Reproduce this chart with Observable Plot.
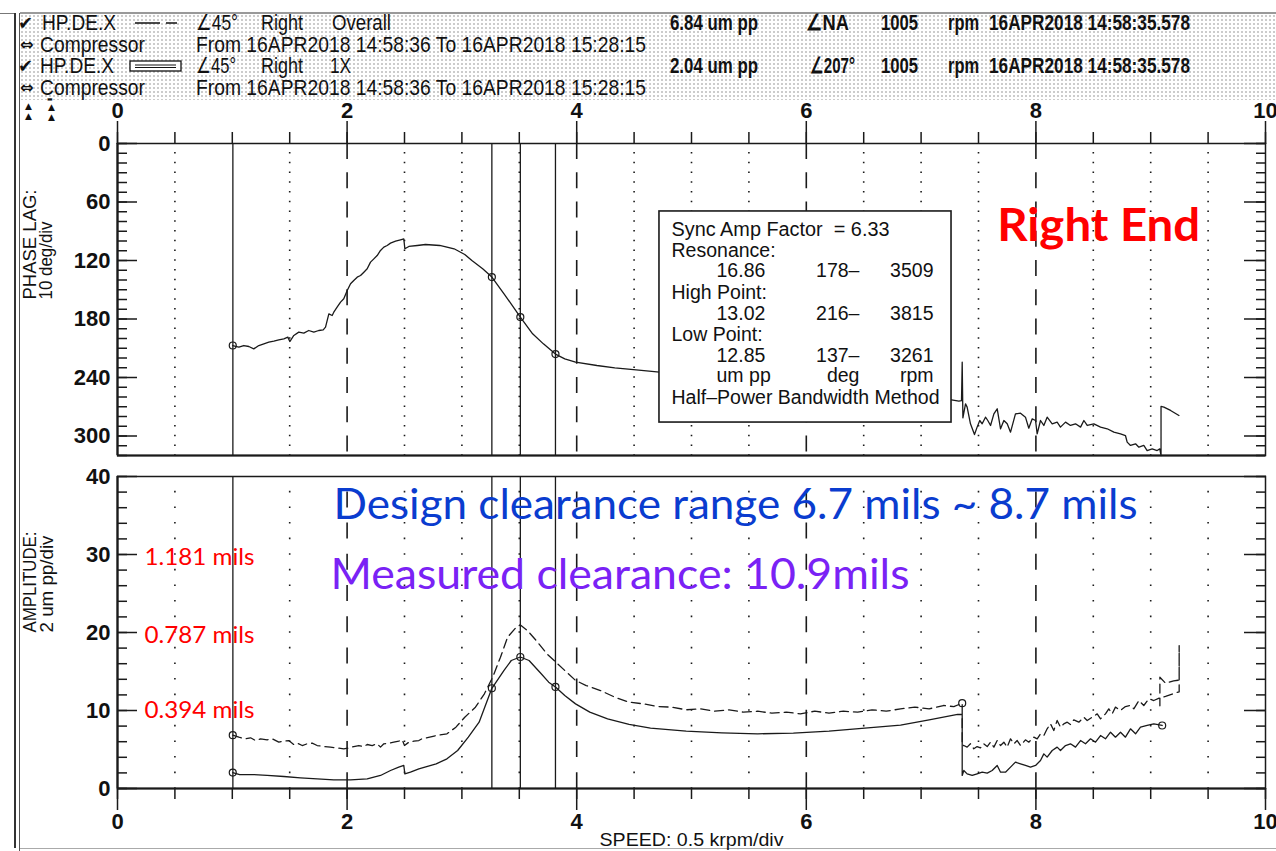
<!DOCTYPE html>
<html>
<head>
<meta charset="utf-8">
<script src="https://cdn.jsdelivr.net/npm/d3@7"></script>
<script src="https://cdn.jsdelivr.net/npm/@observablehq/plot@0.6"></script>
<style>
html,body{margin:0;padding:0;background:#fff;}
#page{position:relative;width:1276px;height:851px;overflow:hidden;background:#fff;}
#hdr{position:absolute;left:20px;top:12px;width:1256px;height:86px;border-top:2px solid #9a9a9a;
 background-image:radial-gradient(circle, rgba(0,0,0,0.20) 0.75px, rgba(0,0,0,0) 1.05px);background-size:4px 4px;}
.t{position:absolute;white-space:pre;font-family:"Liberation Sans Narrow","Liberation Sans",sans-serif;font-size:22px;line-height:20px;color:#111;transform-origin:0 50%;}
.b{font-weight:bold;}
.ic{position:absolute;font-family:"DejaVu Sans",sans-serif;color:#111;line-height:1;}
.vl{position:absolute;background:#333;}
.sym{position:absolute;overflow:visible;}
#p1,#p2{position:absolute;left:0;}
#p1{top:90px;} #p2{top:460px;}
</style>
</head>
<body>
<div id="page">
  <div id="hdr"></div>
  <div class="vl" style="left:0;top:13px;width:15px;height:1px;background:#777"></div>
  <div class="vl" style="left:14px;top:13px;width:2px;height:835px;"></div>
  <div class="vl" style="left:19px;top:13px;width:1px;height:838px;background:#555"></div>
  <div class="vl" style="left:20px;top:848px;width:1256px;height:1px;background:#aaa"></div>
  <div id="hdrText"></div>
  <svg class="sym" style="left:130px;top:14px" width="55" height="16"><line x1="5" y1="9" x2="47" y2="9" stroke="#111" stroke-width="1.5" stroke-dasharray="25,6,11,100"/></svg>
  <svg class="sym" style="left:128px;top:58px" width="56" height="18"><rect x="2" y="3" width="51" height="10" fill="#fff" stroke="#111" stroke-width="1.3"/><line x1="7" y1="7" x2="48" y2="7" stroke="#111" stroke-width="1"/><line x1="7" y1="9.5" x2="48" y2="9.5" stroke="#111" stroke-width="1"/></svg>
  <span class="ic" style="left:18px;top:14px;font-size:18px">✔</span>
  <span class="ic" style="left:18px;top:57px;font-size:18px">✔</span>
  <span class="ic" style="left:20px;top:37px;font-size:16px;font-weight:bold">⇔</span>
  <span class="ic" style="left:20px;top:80px;font-size:16px;font-weight:bold">⇔</span>
  <span class="ic" style="left:25px;top:102px;font-size:9px">▲</span>
  <span class="ic" style="left:25px;top:112px;font-size:9px">▲</span>
  <span class="ic" style="left:47px;top:96px;font-size:6px">▬</span>
  <span class="ic" style="left:48px;top:103px;font-size:9px">▲</span>
  <span class="ic" style="left:48px;top:113px;font-size:9px">▲</span>
  <div id="p1"></div>
  <div id="p2"></div>
</div>
<script>
// ================= DATA =================
const xMajorTicks = [0, 2, 4, 6, 8, 10];
const xMinorTicks = [0, 0.5, 1, 1.5, 2, 2.5, 3, 3.5, 4, 4.5, 5, 5.5, 6, 6.5, 7, 7.5, 8, 8.5, 9, 9.5, 10];
const dottedSpeeds = [0.5, 1.5, 2.5, 3, 3.5, 4.5, 5, 5.5, 6.5, 7, 7.5, 8.5, 9, 9.5];
const dashedSpeeds = [2, 4, 6, 8];
const cursorSpeeds = [1.005, 3.261, 3.509, 3.815];
const phaseMajorTicks = [0, 60, 120, 180, 240, 300];
const phaseMinorTicks = [0, 10, 20, 30, 40, 50, 60, 70, 80, 90, 100, 110, 120, 130, 140, 150, 160, 170, 180, 190, 200, 210, 220, 230, 240, 250, 260, 270, 280, 290, 300, 310, 320];
const ampMajorTicks = [0, 10, 20, 30, 40];
const ampMinorTicks = [0, 2, 4, 6, 8, 10, 12, 14, 16, 18, 20, 22, 24, 26, 28, 30, 32, 34, 36, 38, 40];

// 1X phase lag (krpm, deg)
const phaseTrace = [
 [1.004,207.2],[1.057,208.9],[1.100,207.2],[1.144,208.2],[1.187,210.6],[1.231,207.2],[1.275,205.5],[1.318,203.8],
 [1.362,202.7],[1.405,201.4],[1.449,200.3],[1.484,198.6],[1.501,203.1],[1.536,196.9],[1.579,193.5],[1.623,194.5],
 [1.666,191.8],[1.710,193.5],[1.753,191.8],[1.792,191.1],[1.812,188.4],[1.841,174.7],[1.870,176.4],[1.884,173.0],
 [1.913,167.9],[1.943,162.7],[1.971,159.3],[2.001,150.8],[2.030,143.9],[2.058,140.5],[2.088,137.1],[2.117,135.4],
 [2.146,132.0],[2.175,128.5],[2.204,121.7],[2.233,118.3],[2.262,114.9],[2.291,109.7],[2.320,106.3],[2.349,104.6],
 [2.378,102.2],[2.422,100.2],[2.465,98.8],[2.494,97.8],[2.503,108.0],[2.538,105.6],[2.611,104.6],[2.683,103.6],
 [2.807,104.6],[2.932,108.0],[3.025,113.8],[3.087,120.0],[3.181,128.5],[3.261,137.0],[3.367,154.2],[3.509,178.0],
 [3.616,195.2],[3.710,205.5],[3.815,216.0],[3.896,220.9],[3.990,224.3],[4.176,227.7],[4.332,230.1],[4.518,232.1],
 [4.721,234.5],[7.265,262.9],[7.329,264.3],[7.352,263.6],[7.358,224.3],[7.364,281.4],[7.387,267.0],[7.401,270.4],
 [7.430,287.5],[7.465,298.5],[7.488,290.9],[7.511,284.1],[7.532,287.5],[7.561,280.7],[7.581,284.1],[7.605,289.2],
 [7.634,277.3],[7.663,272.1],[7.692,292.6],[7.721,284.1],[7.750,287.5],[7.779,296.1],[7.822,277.3],[7.866,276.6],
 [7.909,280.7],[7.938,292.0],[7.968,282.4],[7.997,284.1],[8.011,297.8],[8.040,284.1],[8.069,289.2],[8.098,280.7],
 [8.142,287.5],[8.185,285.8],[8.214,290.9],[8.258,285.8],[8.301,289.2],[8.345,287.5],[8.389,290.9],[8.418,284.1],
 [8.447,289.2],[8.505,287.5],[8.563,290.9],[8.621,292.6],[8.679,296.1],[8.737,297.8],[8.780,299.5],[8.795,306.3],
 [8.824,309.7],[8.868,308.0],[8.897,311.5],[8.940,309.7],[8.969,314.9],[9.013,313.2],[9.056,314.9],[9.079,313.2],
 [9.090,320.0],[9.090,269.7],[9.115,270.4],[9.173,273.8],[9.246,279.0]
];
const phaseMarks = [[1.004,207.2],[3.261,137],[3.509,178],[3.815,216]];

// Overall amplitude (krpm, um pp) - dashed
const overallTrace = [
 [1.004,6.84],[1.057,6.58],[1.115,6.37],[1.159,6.50],[1.202,6.15],[1.246,6.37],[1.304,6.24],[1.347,6.37],
 [1.405,5.94],[1.449,6.07],[1.492,6.15],[1.536,5.64],[1.565,5.81],[1.609,5.51],[1.652,5.73],[1.696,5.81],
 [1.739,5.51],[1.797,5.38],[1.855,5.30],[1.913,5.21],[1.971,5.09],[2.015,5.21],[2.058,5.38],[2.102,5.51],
 [2.146,5.38],[2.175,5.64],[2.219,5.51],[2.262,5.73],[2.291,5.30],[2.320,5.73],[2.363,5.81],[2.407,5.94],
 [2.450,6.07],[2.480,6.24],[2.500,5.51],[2.538,5.94],[2.581,6.07],[2.625,6.15],[2.652,6.37],[2.776,6.79],
 [2.870,7.01],[2.948,7.86],[3.025,9.14],[3.118,10.42],[3.196,12.14],[3.268,14.27],[3.336,16.83],[3.398,19.40],
 [3.461,20.47],[3.507,20.98],[3.570,20.26],[3.647,18.97],[3.741,17.26],[3.834,15.98],[3.990,13.85],[4.083,13.20],
 [4.207,12.56],[4.332,11.71],[4.456,11.07],[4.581,10.85],[4.705,10.51],[4.829,10.43],[4.954,10.09],[5.078,10.21],
 [5.203,9.91],[5.327,10.09],[5.451,9.79],[5.576,9.91],[5.700,9.66],[5.825,9.79],[5.949,9.57],[6.074,9.91],
 [6.198,9.66],[6.323,9.91],[6.447,9.79],[6.572,10.09],[6.696,9.91],[6.821,10.21],[6.945,10.43],[7.070,10.21],
 [7.194,10.64],[7.285,10.50],[7.358,10.94],[7.358,5.51],[7.372,5.51],[7.401,5.30],[7.430,5.73],[7.459,5.09],
 [7.488,5.38],[7.517,5.21],[7.546,5.73],[7.576,5.38],[7.605,5.94],[7.634,5.30],[7.663,6.15],[7.692,5.51],
 [7.721,5.94],[7.750,5.30],[7.779,6.37],[7.808,5.73],[7.837,6.15],[7.866,5.51],[7.909,6.24],[7.938,5.94],
 [7.982,6.58],[8.011,6.37],[8.040,7.01],[8.069,6.79],[8.098,7.65],[8.127,8.29],[8.156,7.44],[8.185,8.72],
 [8.214,7.86],[8.243,8.29],[8.273,8.50],[8.301,8.21],[8.330,8.80],[8.374,8.50],[8.418,9.14],[8.447,8.72],
 [8.490,9.14],[8.534,9.57],[8.563,8.93],[8.606,9.57],[8.635,10.21],[8.664,9.57],[8.693,10.43],[8.737,10.00],
 [8.780,10.51],[8.824,10.64],[8.853,10.21],[8.897,11.28],[8.940,10.64],[8.984,11.50],[9.027,11.28],[9.080,11.62],
 [9.129,11.80],[9.187,12.10],[9.248,12.40],[9.248,18.33],[9.248,13.90],[9.200,13.80],[9.129,13.50],[9.080,14.27],
 [9.080,10.60]
];
const overallMarks = [[1.004,6.84],[7.358,10.94]];

// 1X amplitude (krpm, um pp) - solid
const onexTrace = [
 [1.004,2.04],[1.064,1.79],[1.187,1.79],[1.304,1.67],[1.449,1.54],[1.594,1.37],[1.739,1.24],[1.884,1.11],
 [2.030,1.11],[2.175,1.24],[2.291,1.67],[2.378,2.31],[2.450,2.74],[2.494,2.95],[2.503,1.88],[2.552,2.09],
 [2.625,2.52],[2.776,3.16],[2.870,3.80],[2.963,4.87],[3.056,6.58],[3.150,8.50],[3.261,12.85],[3.367,15.13],
 [3.430,16.41],[3.509,16.86],[3.585,16.41],[3.679,14.91],[3.756,13.63],[3.815,13.02],[3.896,11.92],[3.990,10.85],
 [4.114,9.79],[4.269,8.93],[4.456,8.21],[4.643,7.74],[4.954,7.35],[5.265,7.14],[5.576,7.01],[5.887,7.10],
 [6.198,7.35],[6.510,7.74],[6.821,8.12],[7.070,8.80],[7.318,9.49],[7.358,9.49],[7.358,1.67],[7.372,2.31],
 [7.401,1.88],[7.445,1.67],[7.488,1.88],[7.532,2.09],[7.576,1.97],[7.619,2.31],[7.663,2.95],[7.692,2.09],
 [7.735,2.09],[7.779,2.74],[7.822,3.38],[7.866,3.16],[7.909,2.95],[7.953,2.74],[7.997,2.95],[8.040,3.59],
 [8.069,4.44],[8.098,4.02],[8.142,4.87],[8.185,5.30],[8.214,4.87],[8.258,5.51],[8.301,5.73],[8.345,5.30],
 [8.389,6.15],[8.432,5.73],[8.476,6.37],[8.519,5.94],[8.563,6.79],[8.606,6.37],[8.650,7.22],[8.693,6.58],
 [8.737,7.22],[8.780,6.58],[8.824,7.65],[8.868,7.01],[8.911,7.86],[8.969,8.08],[9.027,8.29],[9.100,8.08]
];
const onexMarks = [[1.004,2.04],[3.261,12.85],[3.509,16.86],[3.815,13.02],[9.100,8.08]];

// Texts
const boxHeadings = ["Sync Amp Factor  = 6.33", "Resonance:", "High Point:", "Low Point:", "Half–Power Bandwidth Method"];
const boxValueRows = [["16.86", "178–", "3509"], ["13.02", "216–", "3815"], ["12.85", "137–", "3261"], ["um pp", "deg", "rpm"]];
const milsLabels = ["1.181 mils", "0.787 mils", "0.394 mils"];
const rightEndNote = "Right End";
const designNote = "Design clearance range 6.7 mils ~ 8.7 mils";
const measuredNote = "Measured clearance: 10.9mils";
const phaseTitle = ["PHASE LAG:", "10 deg/div"];
const ampTitle = ["AMPLITUDE:", "2 um pp/div"];
const speedTitle = "SPEED: 0.5 krpm/div";
const headerTexts = [
 ["HP.DE.X",0],["∠45°",0],["Right",0],["Overall",0],["6.84 um pp",1],["∠NA",1],["1005",1],["rpm",1],["16APR2018 14:58:35.578",1],
 ["Compressor",0],["From 16APR2018 14:58:36 To 16APR2018 15:28:15",0],
 ["HP.DE.X",0],["∠45°",0],["Right",0],["1X",0],["2.04 um pp",1],["∠207°",1],["1005",1],["rpm",1],["16APR2018 14:58:35.578",1],
 ["Compressor",0],["From 16APR2018 14:58:36 To 16APR2018 15:28:15",0]
];

// ================= LAYOUT (positions / sizes / styles) =================
const headerLayout = [
 [42,13,74],[196,13,42],[261,13,42],[332,13,59],[670,13,88],[806,13,43],[881,13,37],[948,13,31],[989,13,201],
 [40,35,105],[196,35,450],
 [40,56,74],[196,56,40],[261,56,42],[330,56,21],[670,56,88],[810,56,45],[881,56,37],[948,56,31],[989,56,201],
 [40,78,105],[196,78,450]
];
const BOX = {x1: 4.721, x2: 7.265, y1: 69.7, y2: 286.2};
const rowBase = [94.4, 115.9, 137.4, 159.0, 181.0, 202.6, 224.1, 245.1, 267.0];
const headRows = [0, 1, 3, 5, 8];
const valRows = [2, 4, 6, 7];
const boxLeft = 4.826;
const colX = [5.218, 6.463, 7.108];
const colAnchor = ["start", "end", "end"];
const INK = "#1a1a1a";
const tickFont = {fontFamily: '"Liberation Sans Narrow","Liberation Sans",sans-serif', fontSize: "22px", fontWeight: "bold", color: "#111", background: "transparent", overflow: "visible"};
const fits = {
 "Right End": 203, "Design clearance range 6.7 mils ~ 8.7 mils": 804, "Measured clearance: 10.9mils": 579,
 "1.181 mils": 110, "0.787 mils": 110, "0.394 mils": 110,
 "Sync Amp Factor  = 6.33": 218, "Half–Power Bandwidth Method": 268,
 "SPEED: 0.5 krpm/div": 184, "PHASE LAG:": 110, "10 deg/div": 78, "AMPLITUDE:": 101, "2 um pp/div": 97
};

// ================= HEADER =================
const hdr = document.getElementById("hdrText");
headerTexts.forEach(([t, bold], i) => {
  const [l, tp, w] = headerLayout[i];
  const s = document.createElement("span");
  s.className = "t" + (bold ? " b" : "");
  s.style.left = l + "px"; s.style.top = tp + "px";
  s.dataset.w = w; s.textContent = t;
  hdr.appendChild(s);
});
function fitHeader() {
  hdr.querySelectorAll(".t").forEach(s => {
    s.style.transform = "none";
    const w = s.getBoundingClientRect().width;
    if (w > 0) s.style.transform = `scaleX(${(+s.dataset.w) / w})`;
  });
}

function applyFits(svg) {
  d3.select(svg).selectAll("text").each(function () {
    const t = this.textContent;
    if (fits[t]) { this.setAttribute("textLength", fits[t]); this.setAttribute("lengthAdjust", "spacingAndGlyphs"); }
  });
}

const gridPhase = [
  Plot.ruleX(dottedSpeeds, {stroke: INK, strokeWidth: 1.6, strokeDasharray: "1.6,8.15", strokeDashoffset: 0.8}),
  Plot.ruleX(dashedSpeeds, {stroke: INK, strokeWidth: 1.6, strokeDasharray: "16,13.25"}),
  Plot.ruleX(cursorSpeeds, {stroke: INK, strokeWidth: 1.3})
];
const gridAmp = [
  Plot.ruleX(dottedSpeeds, {stroke: INK, strokeWidth: 1.6, strokeDasharray: "1.6,14", strokeDashoffset: 0.8}),
  Plot.ruleX(dashedSpeeds, {stroke: INK, strokeWidth: 1.6, strokeDasharray: "16,15.2", strokeDashoffset: 15.8}),
  Plot.ruleX(cursorSpeeds, {stroke: INK, strokeWidth: 1.3})
];

const textBase = {fontFamily: '"Liberation Sans",sans-serif', fontWeight: "normal", fill: "#111"};

// ================= PHASE PANEL =================
const p1 = Plot.plot({
  width: 1276, height: 370, marginLeft: 117, marginRight: 11, marginTop: 53, marginBottom: 5,
  x: {domain: [0, 10]},
  y: {domain: [0, 320], reverse: true},
  style: tickFont,
  marks: [
    ...gridPhase,
    Plot.line(phaseTrace, {stroke: INK, strokeWidth: 1.3}),
    Plot.dot(phaseMarks, {r: 3.5, stroke: INK, strokeWidth: 1.2, fill: "none"}),
    Plot.rect([BOX], {x1: "x1", x2: "x2", y1: "y1", y2: "y2", fill: "#fff", stroke: INK, strokeWidth: 1.6}),
    Plot.text(boxHeadings, {x: () => boxLeft, y: (d, i) => rowBase[headRows[i]], text: d => d, textAnchor: "start", lineAnchor: "bottom", fontSize: 19.5, ...textBase}),
    ...colX.map((cx, c) => Plot.text(boxValueRows, {x: () => cx, y: (d, i) => rowBase[valRows[i]], text: d => d[c], textAnchor: colAnchor[c], lineAnchor: "bottom", fontSize: 19.5, ...textBase})),
    Plot.frame({stroke: INK, strokeWidth: 1.5}),
    Plot.ruleX([0], {stroke: INK, strokeWidth: 2.2}),
    Plot.ruleY([320], {stroke: INK, strokeWidth: 2}),
    Plot.axisX({anchor: "top", ticks: xMinorTicks, tickSize: 12, fill: "none", stroke: INK, strokeWidth: 1.5, label: null}),
    Plot.axisX({anchor: "top", ticks: xMajorTicks, tickSize: 23, tickPadding: 3, stroke: INK, strokeWidth: 1.5, label: null}),
    Plot.axisY({anchor: "left", ticks: phaseMinorTicks, tickSize: -10, fill: "none", stroke: INK, strokeWidth: 1.5, label: null}),
    Plot.axisY({anchor: "left", ticks: phaseMajorTicks, tickSize: -20, fill: "none", stroke: INK, strokeWidth: 1.5, label: null}),
    Plot.axisY({anchor: "left", ticks: phaseMajorTicks, tickSize: 0, tickPadding: 7, label: null}),
    Plot.axisY({anchor: "right", ticks: phaseMinorTicks, tickSize: -10, fill: "none", stroke: INK, strokeWidth: 1.5, label: null}),
    Plot.axisY({anchor: "right", ticks: phaseMajorTicks, tickSize: -22, fill: "none", stroke: INK, strokeWidth: 1.5, label: null}),
    Plot.text([phaseTitle[0]], {frameAnchor: "left", dx: -87, rotate: -90, fontSize: 17.5, ...textBase}),
    Plot.text([phaseTitle[1]], {frameAnchor: "left", dx: -71, rotate: -90, fontSize: 17.5, ...textBase}),
    Plot.text([rightEndNote], {x: () => 7.663, y: () => 99.5, textAnchor: "start", lineAnchor: "bottom", fontFamily: "Lato", fontWeight: "bold", fontSize: 46, fill: "#ff0000"})
  ]
});
applyFits(p1);
document.getElementById("p1").appendChild(p1);

// ================= AMPLITUDE PANEL =================
const p2 = Plot.plot({
  width: 1276, height: 391, marginLeft: 117, marginRight: 11, marginTop: 16, marginBottom: 63,
  x: {domain: [0, 10]},
  y: {domain: [0, 40]},
  style: tickFont,
  marks: [
    ...gridAmp,
    Plot.line(overallTrace, {stroke: INK, strokeWidth: 1.3, strokeDasharray: "9,5"}),
    Plot.line(onexTrace, {stroke: INK, strokeWidth: 1.3}),
    Plot.dot(overallMarks, {r: 3.5, stroke: INK, strokeWidth: 1.2, fill: "none"}),
    Plot.dot(onexMarks, {r: 3.5, stroke: INK, strokeWidth: 1.2, fill: "none"}),
    Plot.frame({stroke: INK, strokeWidth: 1.5}),
    Plot.ruleX([0], {stroke: INK, strokeWidth: 2.2}),
    Plot.ruleY([0], {stroke: INK, strokeWidth: 2.2}),
    Plot.axisX({anchor: "bottom", ticks: xMinorTicks, tickSize: 11, fill: "none", stroke: INK, strokeWidth: 1.5, label: null}),
    Plot.axisX({anchor: "bottom", ticks: xMajorTicks, tickSize: 22, tickPadding: 3, stroke: INK, strokeWidth: 1.5, label: null}),
    Plot.axisY({anchor: "left", ticks: ampMinorTicks, tickSize: -10, fill: "none", stroke: INK, strokeWidth: 1.5, label: null}),
    Plot.axisY({anchor: "left", ticks: ampMajorTicks, tickSize: -20, fill: "none", stroke: INK, strokeWidth: 1.5, label: null}),
    Plot.axisY({anchor: "left", ticks: ampMajorTicks, tickSize: 0, tickPadding: 7, label: null}),
    Plot.axisY({anchor: "right", ticks: ampMinorTicks, tickSize: -10, fill: "none", stroke: INK, strokeWidth: 1.5, label: null}),
    Plot.axisY({anchor: "right", ticks: ampMajorTicks, tickSize: -22, fill: "none", stroke: INK, strokeWidth: 1.5, label: null}),
    Plot.text([ampTitle[0]], {frameAnchor: "left", dx: -87, rotate: -90, fontSize: 17.5, ...textBase}),
    Plot.text([ampTitle[1]], {frameAnchor: "left", dx: -70, rotate: -90, fontSize: 17.5, ...textBase}),
    Plot.text([speedTitle], {frameAnchor: "bottom", dy: 52, lineAnchor: "middle", fontSize: 18.5, ...textBase}),
    Plot.text(milsLabels, {x: () => 0.235, y: (d, i) => [28.7, 18.7, 9.0][i], text: d => d, textAnchor: "start", lineAnchor: "bottom", fontFamily: "Lato", fontWeight: "normal", fontSize: 24, fill: "#ff0000"}),
    Plot.text([designNote], {x: () => 1.882, y: () => 34.6, textAnchor: "start", lineAnchor: "bottom", fontFamily: "Lato", fontWeight: "normal", fontSize: 42, fill: "#0a3ccf"}),
    Plot.text([measuredNote], {x: () => 1.855, y: () => 25.6, textAnchor: "start", lineAnchor: "bottom", fontFamily: "Lato", fontWeight: "normal", fontSize: 42, fill: "#7a22f5"})
  ]
});
applyFits(p2);
document.getElementById("p2").appendChild(p2);

fitHeader();
if (document.fonts && document.fonts.ready) document.fonts.ready.then(fitHeader);
</script>
</body>
</html>
